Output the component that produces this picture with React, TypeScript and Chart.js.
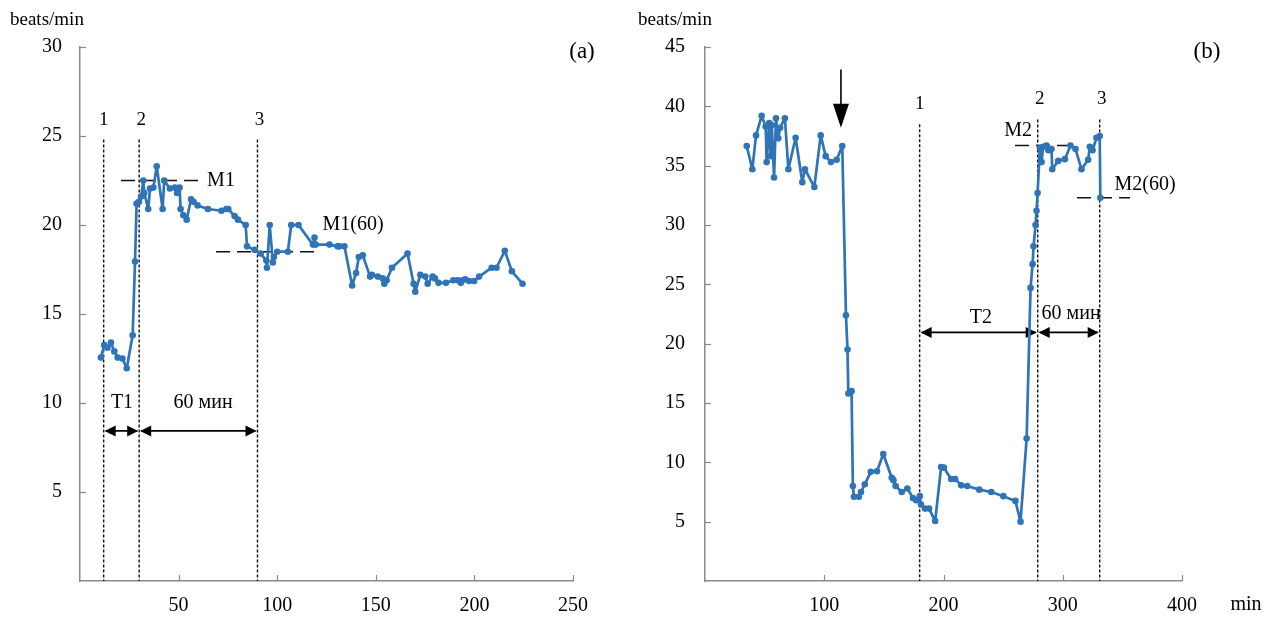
import React, { useEffect, useRef } from 'react';
import { Chart, registerables } from 'chart.js';
Chart.register(...registerables);

// ---------- Panel (a) data ----------
const aTime = [10.6, 12.3, 14.0, 15.7, 17.4, 19.1, 21.5, 23.7, 26.7, 27.9, 28.7, 29.9, 31.0, 32.1, 32.6, 34.6, 35.5, 37.2, 38.9, 41.9, 42.7, 45.6, 48.1, 49.2, 50.5, 51.0, 52.4, 54.1, 56.3, 57.6, 59.6, 64.9, 71.7, 74.2, 75.2, 78.4, 80.1, 84.0, 84.7, 88.6, 91.6, 94.5, 94.8, 96.2, 97.8, 98.3, 100.0, 105.4, 107.1, 110.8, 118.1, 118.9, 119.5, 126.5, 130.6, 131.6, 134.1, 138.0, 140.0, 141.4, 143.4, 147.1, 148.0, 151.0, 153.5, 154.3, 155.5, 158.2, 166.1, 169.2, 170.0, 172.6, 175.1, 176.3, 178.8, 180.0, 181.8, 185.6, 189.3, 191.5, 193.1, 194.0, 195.3, 197.4, 199.9, 202.4, 208.8, 211.2, 215.4, 219.0, 224.4];
const aRate = [12.55, 13.25, 13.1, 13.4, 12.9, 12.55, 12.5, 11.95, 13.8, 17.95, 21.2, 21.3, 21.6, 22.5, 21.8, 20.9, 22.05, 22.1, 23.3, 20.9, 22.5, 22.05, 22.1, 21.8, 22.1, 20.9, 20.55, 20.3, 21.45, 21.3, 21.1, 20.9, 20.8, 20.9, 20.9, 20.5, 20.3, 20.0, 18.8, 18.6, 18.4, 18.0, 17.6, 20.0, 17.9, 18.2, 18.5, 18.5, 20.0, 20.0, 18.9, 19.3, 18.9, 18.9, 18.8, 18.8, 18.8, 16.6, 17.3, 18.2, 18.3, 17.1, 17.2, 17.1, 17.0, 16.7, 16.9, 17.6, 18.4, 16.7, 16.25, 17.2, 17.1, 16.7, 17.1, 17.0, 16.75, 16.75, 16.9, 16.9, 16.75, 16.9, 16.95, 16.85, 16.85, 17.1, 17.6, 17.6, 18.55, 17.4, 16.7];

// ---------- Panel (b) data ----------
const bTime = [35.0, 39.7, 42.8, 47.5, 50.9, 51.7, 53.9, 55.1, 56.0, 57.9, 59.5, 61.5, 63.0, 67.0, 69.9, 76.0, 81.6, 83.8, 91.7, 97.0, 101.2, 105.6, 110.4, 115.1, 118.2, 119.5, 120.2, 122.9, 124.0, 124.9, 129.0, 130.8, 134.0, 139.0, 144.2, 149.5, 156.6, 158.0, 159.9, 165.0, 169.7, 174.4, 177.0, 180.1, 181.1, 184.5, 187.9, 193.0, 198.0, 200.3, 206.4, 209.8, 214.8, 219.9, 230.0, 240.0, 250.2, 260.3, 264.6, 269.7, 273.0, 274.7, 275.5, 277.2, 278.0, 278.9, 280.8, 282.2, 283.6, 286.4, 288.0, 290.6, 291.2, 296.2, 301.8, 306.5, 310.7, 315.7, 321.3, 322.7, 325.0, 328.3, 331.0, 331.5];
const bRate = [36.65, 34.7, 37.55, 39.2, 38.3, 35.3, 38.6, 35.8, 38.4, 34.0, 39.0, 37.3, 38.2, 39.0, 34.7, 37.35, 33.6, 34.7, 33.2, 37.55, 35.8, 35.3, 35.5, 36.65, 22.4, 19.5, 15.8, 16.0, 8.0, 7.1, 7.1, 7.5, 8.15, 9.2, 9.25, 10.7, 8.7, 8.5, 8.0, 7.5, 7.8, 7.0, 6.8, 7.15, 6.45, 6.1, 6.1, 5.05, 9.6, 9.55, 8.6, 8.6, 8.06, 8.0, 7.7, 7.5, 7.15, 6.75, 5.0, 12.0, 24.7, 26.7, 28.2, 30.0, 31.2, 32.7, 36.5, 35.3, 36.6, 36.7, 36.3, 36.4, 34.7, 35.4, 35.55, 36.7, 36.4, 34.7, 35.5, 36.6, 36.3, 37.35, 37.5, 32.3];

// ---------- Axes ----------
const aXTicks = [50, 100, 150, 200, 250];
const aYTicks = [5, 10, 15, 20, 25, 30];
const bXTicks = [100, 200, 300, 400];
const bYTicks = [5, 10, 15, 20, 25, 30, 35, 40, 45];

// ---------- Annotations (data units) ----------
const aMarkerTimes = [12, 30, 90];
const aMarkerLabels = ['1', '2', '3'];
const aMarkerTop = 24.8;
const aLevelNames = ['M1', 'M1(60)'];
const aLevelValues = [22.5, 18.5];
const aLevelFrom = [20.8, 69];
const aLevelTo = [60.3, 120.7];
const aLevelLabelX = [71.5, 138.5];
const aLevelLabelY = [22.5, 20.0];
const aSpanNames = ['T1', '60 мин'];
const aSpanFrom = [12, 30];
const aSpanTo = [30, 90];
const aSpanY = 8.43;
const aSpanLabelX = [21.3, 62.4];
const aSpanLabelY = [10.0, 10.0];

const bMarkerTimes = [180, 279, 331];
const bMarkerLabels = ['1', '2', '3'];
const bMarkerTop = [38.5, 38.9, 38.9];
const bLevelNames = ['M2', 'M2(60)'];
const bLevelValues = [36.7, 32.3];
const bLevelFrom = [260, 312];
const bLevelTo = [307.8, 356.4];
const bLevelLabelX = [262.5, 369];
const bLevelLabelY = [37.95, 33.4];
const bSpanNames = ['T2', '60 мин'];
const bSpanFrom = [180, 279];
const bSpanTo = [279, 331];
const bSpanY = 20.95;
const bSpanLabelX = [231.4, 307];
const bSpanLabelY = [22.2, 22.5];
const bDropTime = 114;
const bDropFrom = 43.1;
const bDropTo = 38.2;

const LINE_COLOR = '#2F74B6';
const AXIS_COLOR = '#8a8a8a';
const FONT = '"Liberation Serif", "Times New Roman", serif';

type Ann = {
  markers: { x: number; top: number; label: string }[];
  levels: { name: string; y: number; x1: number; x2: number; lx: number; ly: number }[];
  spans: { name: string; x1: number; x2: number; y: number; lx: number; ly: number }[];
  drop?: { x: number; y1: number; y2: number };
  panel: string;
  panelDx: number;
  unitX?: string;
};

function arrowHead(ctx: CanvasRenderingContext2D, x: number, y: number, dir: number) {
  ctx.beginPath();
  ctx.moveTo(x, y);
  ctx.lineTo(x - dir * 11, y - 5.5);
  ctx.lineTo(x - dir * 11, y + 5.5);
  ctx.closePath();
  ctx.fill();
}

function makePlugin(ann: Ann, xTicks: number[], yTicks: number[]) {
  return {
    id: 'annot',
    beforeDatasetsDraw(chart: any) {
      const ctx: CanvasRenderingContext2D = chart.ctx;
      const xs = chart.scales.x;
      const ys = chart.scales.y;
      const area = chart.chartArea;
      ctx.save();
      ctx.strokeStyle = AXIS_COLOR;
      ctx.lineWidth = 1.2;
      xTicks.forEach((t) => {
        const px = Math.round(xs.getPixelForValue(t)) + 0.5;
        ctx.beginPath();
        ctx.moveTo(px, area.bottom);
        ctx.lineTo(px, area.bottom - 6);
        ctx.stroke();
      });
      yTicks.forEach((t) => {
        const py = Math.round(ys.getPixelForValue(t)) + 0.5;
        ctx.beginPath();
        ctx.moveTo(area.left, py);
        ctx.lineTo(area.left + 6, py);
        ctx.stroke();
      });
      ctx.strokeStyle = '#111';
      ctx.lineWidth = 1.4;
      ctx.setLineDash([3, 2]);
      ann.markers.forEach((m) => {
        const px = xs.getPixelForValue(m.x);
        ctx.beginPath();
        ctx.moveTo(px, ys.getPixelForValue(m.top));
        ctx.lineTo(px, area.bottom);
        ctx.stroke();
      });
      ctx.lineWidth = 1.6;
      ctx.setLineDash([14, 7]);
      ann.levels.forEach((l) => {
        const py = ys.getPixelForValue(l.y);
        ctx.beginPath();
        ctx.moveTo(xs.getPixelForValue(l.x1), py);
        ctx.lineTo(xs.getPixelForValue(l.x2), py);
        ctx.stroke();
      });
      ctx.setLineDash([]);
      ctx.fillStyle = '#000';
      ctx.strokeStyle = '#000';
      ctx.lineWidth = 1.8;
      ann.spans.forEach((s) => {
        const py = ys.getPixelForValue(s.y);
        const p1 = xs.getPixelForValue(s.x1);
        const p2 = xs.getPixelForValue(s.x2);
        ctx.beginPath();
        ctx.moveTo(p1 + 2, py);
        ctx.lineTo(p2 - 2, py);
        ctx.stroke();
        arrowHead(ctx, p1 + 1, py, -1);
        arrowHead(ctx, p2 - 1, py, 1);
      });
      if (ann.drop) {
        const px = xs.getPixelForValue(ann.drop.x);
        const t = ys.getPixelForValue(ann.drop.y1);
        const b = ys.getPixelForValue(ann.drop.y2);
        ctx.lineWidth = 1.6;
        ctx.beginPath();
        ctx.moveTo(px, t);
        ctx.lineTo(px, b - 20);
        ctx.stroke();
        ctx.beginPath();
        ctx.moveTo(px - 8, b - 24);
        ctx.lineTo(px + 8, b - 24);
        ctx.lineTo(px, b);
        ctx.closePath();
        ctx.fill();
      }
      ctx.restore();
    },
    afterDraw(chart: any) {
      const ctx: CanvasRenderingContext2D = chart.ctx;
      const xs = chart.scales.x;
      const ys = chart.scales.y;
      const area = chart.chartArea;
      ctx.save();
      ctx.fillStyle = '#000';
      ctx.textBaseline = 'middle';
      ctx.textAlign = 'center';
      ctx.font = `19px ${FONT}`;
      ann.markers.forEach((m, i) => {
        ctx.fillText(m.label, xs.getPixelForValue(m.x) + (i === 0 ? 0 : 2), ys.getPixelForValue(m.top) - 20);
      });
      ctx.font = `20px ${FONT}`;
      ann.levels.forEach((l) => {
        ctx.fillText(l.name, xs.getPixelForValue(l.lx), ys.getPixelForValue(l.ly));
      });
      ann.spans.forEach((s) => {
        ctx.fillText(s.name, xs.getPixelForValue(s.lx), ys.getPixelForValue(s.ly));
      });
      ctx.textAlign = 'left';
      ctx.font = `19px ${FONT}`;
      ctx.fillText('beats/min', area.left - (ann.unitX ? 67 : 70), 20);
      if (ann.unitX) {
        ctx.textAlign = 'center';
        ctx.font = `20px ${FONT}`;
        ctx.fillText(ann.unitX, area.right + 64, 605);
      }
      ctx.textAlign = 'center';
      ctx.font = `23px ${FONT}`;
      ctx.fillText(ann.panel, area.right + ann.panelDx, area.top + 5);
      ctx.restore();
    },
  };
}

function zipPts(xs: number[], ys: number[]) {
  return xs.map((x, i) => ({ x, y: ys[i] }));
}

function makeConfig(
  xs: number[], ys: number[], xMax: number, yMax: number, xStep: number, yStep: number,
  padRight: number, yAxisWidth: number, yPad: number, ann: Ann, xTicks: number[], yTicks: number[]
): any {
  return {
    type: 'line',
    data: {
      datasets: [
        {
          data: zipPts(xs, ys),
          borderColor: LINE_COLOR,
          backgroundColor: LINE_COLOR,
          borderWidth: 2.7,
          borderJoinStyle: 'round',
          borderCapStyle: 'round',
          pointRadius: 3.3,
          pointBorderWidth: 0,
          pointBackgroundColor: LINE_COLOR,
          tension: 0,
        },
      ],
    },
    options: {
      responsive: false,
      animation: false,
      events: [],
      layout: { padding: { left: 0, top: 47, right: padRight, bottom: 0 } },
      plugins: { legend: { display: false }, tooltip: { enabled: false }, title: { display: false } },
      scales: {
        x: {
          type: 'linear',
          min: 0,
          max: xMax,
          grid: { display: false, drawTicks: false },
          border: { display: true, color: AXIS_COLOR, width: 1.5 },
          ticks: {
            stepSize: xStep,
            padding: 13,
            color: '#000',
            font: { family: FONT, size: 20 },
            maxRotation: 0,
            callback: (v: number) => (v === 0 ? '' : String(v)),
          },
          afterFit: (s: any) => { s.height = 36; },
        },
        y: {
          min: 0,
          max: yMax,
          grid: { display: false, drawTicks: false },
          border: { display: true, color: AXIS_COLOR, width: 1.5 },
          ticks: {
            stepSize: yStep,
            padding: yPad,
            color: '#000',
            font: { family: FONT, size: 20 },
            callback: (v: number) => (v === 0 ? '' : String(v)),
          },
          afterFit: (s: any) => { s.width = yAxisWidth; },
        },
      },
    },
    plugins: [makePlugin(ann, xTicks, yTicks)],
  };
}

const annA: Ann = {
  markers: aMarkerTimes.map((x, i) => ({ x, top: aMarkerTop, label: aMarkerLabels[i] })),
  levels: aLevelNames.map((name, i) => ({ name, y: aLevelValues[i], x1: aLevelFrom[i], x2: aLevelTo[i], lx: aLevelLabelX[i], ly: aLevelLabelY[i] })),
  spans: aSpanNames.map((name, i) => ({ name, x1: aSpanFrom[i], x2: aSpanTo[i], y: aSpanY, lx: aSpanLabelX[i], ly: aSpanLabelY[i] })),
  panel: '(a)',
  panelDx: 9,
};

const annB: Ann = {
  markers: bMarkerTimes.map((x, i) => ({ x, top: bMarkerTop[i], label: bMarkerLabels[i] })),
  levels: bLevelNames.map((name, i) => ({ name, y: bLevelValues[i], x1: bLevelFrom[i], x2: bLevelTo[i], lx: bLevelLabelX[i], ly: bLevelLabelY[i] })),
  spans: bSpanNames.map((name, i) => ({ name, x1: bSpanFrom[i], x2: bSpanTo[i], y: bSpanY, lx: bSpanLabelX[i], ly: bSpanLabelY[i] })),
  drop: { x: bDropTime, y1: bDropFrom, y2: bDropTo },
  panel: '(b)',
  panelDx: 25,
  unitX: 'min',
};

export default function App() {
  const refA = useRef<HTMLCanvasElement | null>(null);
  const refB = useRef<HTMLCanvasElement | null>(null);

  useEffect(() => {
    const ca = new Chart(refA.current!, makeConfig(aTime, aRate, 250, 30, 50, 5, 63, 80, 18, annA, aXTicks, aYTicks));
    const cb = new Chart(refB.current!, makeConfig(bTime, bRate, 400, 45, 100, 5, 89, 69, 20, annB, bXTicks, bYTicks));
    return () => {
      ca.destroy();
      cb.destroy();
    };
  }, []);

  return (
    <div style={{ position: 'fixed', left: 0, top: 0, width: 1271, height: 617, background: '#fff' }}>
      <canvas ref={refA} width={636} height={617} style={{ position: 'absolute', left: 0, top: 0, display: 'block' }} />
      <canvas ref={refB} width={635} height={617} style={{ position: 'absolute', left: 636, top: 0, display: 'block' }} />
    </div>
  );
}
